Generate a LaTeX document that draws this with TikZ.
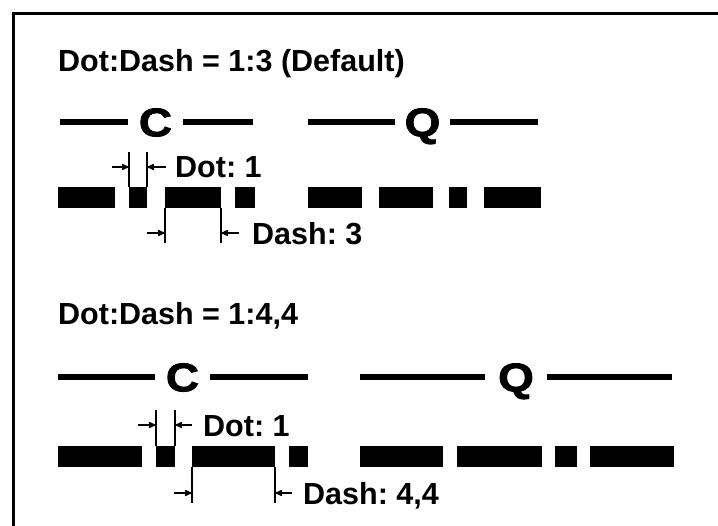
\documentclass[tikz,border=0pt]{standalone}
\usepackage{fontspec}
\setmainfont{Liberation Sans}
\newfontfamily\heavyfont{Liberation Sans Bold}[FakeBold=2,FakeStretch=1.15]
\usepackage{tikz}
\usetikzlibrary{arrows}
\usetikzlibrary{positioning}
\frenchspacing

\begin{document}
\begin{tikzpicture}[x=1pt,y=-1pt,>=stealth',
  seg node/.style={fill=black,inner sep=0pt,outer sep=0pt,minimum height=21pt,anchor=west},
  txt node/.style={inner sep=0pt,anchor=base west,font=\fontsize{30.5}{31}\selectfont\bfseries},
  big node/.style={inner sep=0pt,outer sep=0pt,anchor=base,text height=28.6pt,text depth=0pt,
    minimum width=55pt,font=\fontsize{40}{40}\selectfont\heavyfont},
  rule/.style={line width=6pt},
  dim/.style={line width=1.5pt},
  dim arrow/.style={->,line width=1.5pt}]

  \useasboundingbox (0,0) rectangle (718,526);
  \draw[line width=3pt] (13,540) -- (13,14) -- (730,14);

  % 1:3
  \node[txt node] (title1) at (58,72) {Dot:Dash = 1:3 (Default)};

  \node[big node] (c1) at (155.5,136.3) {C};
  \node[big node] (q1) at (422.5,136.3) {Q};
  \coordinate (c1a) at (60,122);  \coordinate (c1b) at (253,122);
  \coordinate (q1a) at (308,122); \coordinate (q1b) at (538,122);
  \draw[rule] (c1a) -- (c1.west);
  \draw[rule] (c1.east) -- (c1b);
  \draw[rule] (q1a) -- (q1.west);
  \draw[rule] (q1.east) -- (q1b);

  \node[seg node,minimum width=57pt] (t1) at (58,197.5) {};
  \node[seg node,minimum width=18pt] (t2) at (129,197.5) {};
  \node[seg node,minimum width=56pt] (t3) at (165,197.5) {};
  \node[seg node,minimum width=20pt] (t4) at (235,197.5) {};
  \node[seg node,minimum width=54pt] (t5) at (308,197.5) {};
  \node[seg node,minimum width=54pt] (t6) at (379,197.5) {};
  \node[seg node,minimum width=18pt] (t7) at (449,197.5) {};
  \node[seg node,minimum width=57pt] (t8) at (484,197.5) {};

  \node[txt node] (dot1) at (175,178) {Dot: 1};
  \coordinate (t2l) at (129,152); \coordinate (t2r) at (147,152);
  \draw[dim] (t2l) -- (t2.north west);
  \draw[dim] (t2r) -- (t2.north east);
  \coordinate (t2la) at (112,167); \coordinate (t2ra) at (166,167);
  \draw[dim arrow] (t2la) -- (t2la -| t2l);
  \draw[dim arrow] (t2ra) -- (t2ra -| t2r);

  \node[txt node] (dash1) at (252,245) {Dash: 3};
  \coordinate (t3l) at (165,243); \coordinate (t3r) at (221,243);
  \draw[dim] (t3.south west) -- (t3l);
  \draw[dim] (t3.south east) -- (t3r);
  \coordinate (t3la) at (147,233); \coordinate (t3ra) at (239,233);
  \draw[dim arrow] (t3la) -- (t3la -| t3l);
  \draw[dim arrow] (t3ra) -- (t3ra -| t3r);

  % 1:4,4
  \node[txt node] (title2) at (58,325) {Dot:Dash = 1:4,4};

  \node[big node] (c2) at (182.5,391.3) {C};
  \node[big node,minimum width=62pt] (q2) at (516,391.3) {Q};
  \coordinate (c2a) at (58,377);  \coordinate (c2b) at (308,377);
  \coordinate (q2a) at (360,377); \coordinate (q2b) at (672,377);
  \draw[rule] (c2a) -- (c2.west);
  \draw[rule] (c2.east) -- (c2b);
  \draw[rule] (q2a) -- (q2.west);
  \draw[rule] (q2.east) -- (q2b);

  \node[seg node,minimum width=84pt] (b1) at (58,456.5) {};
  \node[seg node,minimum width=19pt] (b2) at (156,456.5) {};
  \node[seg node,minimum width=83pt] (b3) at (192,456.5) {};
  \node[seg node,minimum width=19pt] (b4) at (289,456.5) {};
  \node[seg node,minimum width=83pt] (b5) at (360,456.5) {};
  \node[seg node,minimum width=85pt] (b6) at (457,456.5) {};
  \node[seg node,minimum width=22pt] (b7) at (555,456.5) {};
  \node[seg node,minimum width=84pt] (b8) at (590,456.5) {};

  \node[txt node] (dot2) at (203,437) {Dot: 1};
  \coordinate (b2l) at (156,410); \coordinate (b2r) at (175,410);
  \draw[dim] (b2l) -- (b2.north west);
  \draw[dim] (b2r) -- (b2.north east);
  \coordinate (b2la) at (138,425); \coordinate (b2ra) at (192,425);
  \draw[dim arrow] (b2la) -- (b2la -| b2l);
  \draw[dim arrow] (b2ra) -- (b2ra -| b2r);

  \node[txt node] (dash2) at (303,505) {Dash: 4,4};
  \coordinate (b3l) at (192,503); \coordinate (b3r) at (275,503);
  \draw[dim] (b3.south west) -- (b3l);
  \draw[dim] (b3.south east) -- (b3r);
  \coordinate (b3la) at (174,493); \coordinate (b3ra) at (292,493);
  \draw[dim arrow] (b3la) -- (b3la -| b3l);
  \draw[dim arrow] (b3ra) -- (b3ra -| b3r);
\end{tikzpicture}
\end{document}
